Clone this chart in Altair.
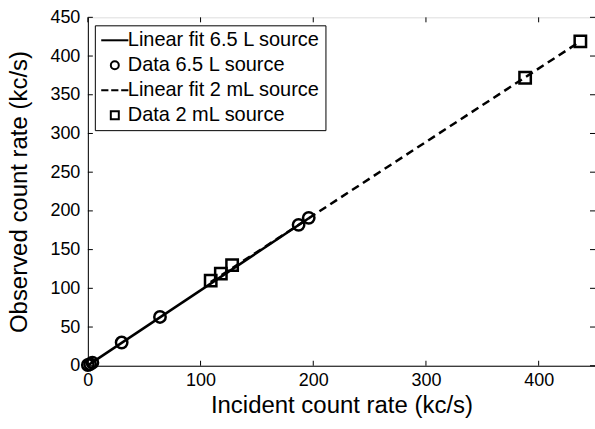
import altair as alt
import pandas as pd

# Data
circ_x = [0, 2, 4, 30, 64, 187, 196]
circ_y = [1, 2, 4, 30, 63, 182, 191]
sq_x = [109, 118, 128, 388, 437]
sq_y = [110, 119, 130, 372, 419]
fit1_x = [0, 196]
fit1_y = [0.5, 190.5]
fit2_x = [109, 437]
fit2_y = [108, 419]
x_ticks = [0, 100, 200, 300, 400]
y_ticks = [0, 50, 100, 150, 200, 250, 300, 350, 400, 450]
legend_labels = ["Linear fit 6.5 L source", "Data 6.5 L source",
                 "Linear fit 2 mL source", "Data 2 mL source"]

W, H = 508, 349
FONT = "Liberation Sans"

xs = alt.Scale(domain=[0, 450], nice=False)
ys = alt.Scale(domain=[0, 450], nice=False)

pts = pd.DataFrame({
    "x": circ_x + sq_x,
    "y": circ_y + sq_y,
    "series": [legend_labels[1]] * len(circ_x) + [legend_labels[3]] * len(sq_x),
})
fits = pd.DataFrame({
    "x": fit1_x + fit2_x,
    "y": fit1_y + fit2_y,
    "fit": ["a", "a", "b", "b"],
})

shape_range = [
    "M-3.4,0H3.4",
    "circle",
    "M-3.4,0H-1.6M-0.9,0H0.9M1.6,0H3.4",
    "square",
]

common = dict(grid=False, ticks=False, labelFont=FONT, titleFont=FONT, domainColor="black",
              labelColor="black", titleColor="black", titleFontWeight="normal", domainWidth=1,
              labelOverlap=False, labelFlush=False, labelBound=False)
xaxis = alt.Axis(values=x_ticks, title="Incident count rate (kc/s)",
                 labelFontSize=18, titleFontSize=24, labelPadding=6, titlePadding=4, **common)
yaxis = alt.Axis(values=y_ticks, title="Observed count rate (kc/s)",
                 labelFontSize=18, titleFontSize=24, labelPadding=8, titlePadding=18, **common)

solid = alt.Chart(fits[fits.fit == "a"]).mark_line(color="black", strokeWidth=2.5).encode(
    x=alt.X("x:Q", scale=xs, axis=xaxis),
    y=alt.Y("y:Q", scale=ys, axis=yaxis),
)
dashed = alt.Chart(fits[fits.fit == "b"]).mark_line(color="black", strokeWidth=2.5,
                                                   strokeDash=[8, 5]).encode(
    x=alt.X("x:Q", scale=xs, axis=xaxis),
    y=alt.Y("y:Q", scale=ys, axis=yaxis),
)
points = alt.Chart(pts).mark_point(filled=False, color="black", strokeWidth=2.5, size=130,
                                   opacity=1).encode(
    x=alt.X("x:Q", scale=xs, axis=xaxis),
    y=alt.Y("y:Q", scale=ys, axis=yaxis),
    shape=alt.Shape("series:N", scale=alt.Scale(domain=legend_labels, range=shape_range),
                    legend=alt.Legend(title=None, orient="none", legendX=7, legendY=8,
                                      labelFontSize=20, labelFont=FONT, labelColor="black",
                                      symbolSize=64, symbolStrokeWidth=2,
                                      symbolStrokeColor="black", symbolFillColor="transparent",
                                      symbolOffset=5, labelOffset=3,
                                      fillColor="white", strokeColor="black",
                                      padding=5, rowPadding=5, labelLimit=400)),
)

xt = pd.DataFrame({"v": x_ticks})
yt = pd.DataFrame({"v": y_ticks})
tk_b = alt.Chart(xt).mark_rule(color="black").encode(
    x=alt.X("v:Q", scale=xs, axis=xaxis), y=alt.value(H), y2=alt.value(H - 5))
tk_t = alt.Chart(xt).mark_rule(color="black").encode(
    x=alt.X("v:Q", scale=xs, axis=xaxis), y=alt.value(0), y2=alt.value(5))
tk_l = alt.Chart(yt).mark_rule(color="black").encode(
    y=alt.Y("v:Q", scale=ys, axis=yaxis), x=alt.value(0), x2=alt.value(5))
tk_r = alt.Chart(yt).mark_rule(color="black").encode(
    y=alt.Y("v:Q", scale=ys, axis=yaxis), x=alt.value(W), x2=alt.value(W - 5))

chart = alt.layer(solid, dashed, points, tk_b, tk_t, tk_l, tk_r).properties(
    width=W, height=H,
    autosize=alt.AutoSizeParams(type="none"),
    padding={"left": 88, "top": 17, "right": 0, "bottom": 63},
).configure_view(stroke="black", strokeWidth=1).configure(background="white")

chart.save("out.html", embed_options={"renderer": "svg", "actions": False})
